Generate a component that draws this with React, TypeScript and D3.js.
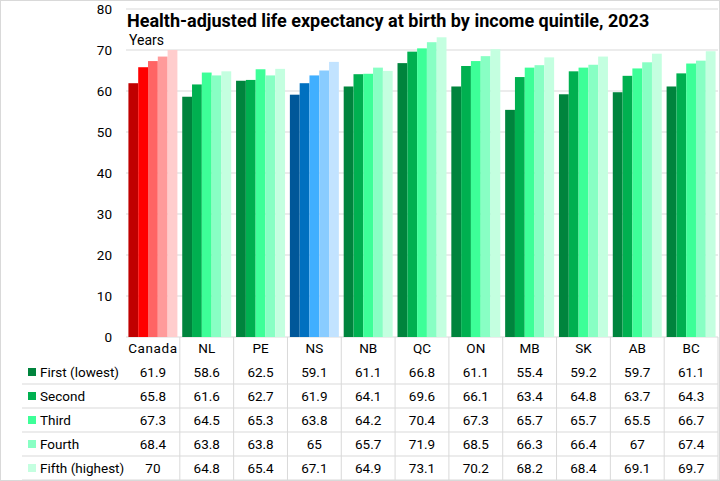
import * as d3 from 'd3';

const categories = ['Canada', 'NL', 'PE', 'NS', 'NB', 'QC', 'ON', 'MB', 'SK', 'AB', 'BC'];
const seriesNames = ['First (lowest)', 'Second', 'Third', 'Fourth', 'Fifth (highest)'];
const first = [61.9, 58.6, 62.5, 59.1, 61.1, 66.8, 61.1, 55.4, 59.2, 59.7, 61.1];
const second = [65.8, 61.6, 62.7, 61.9, 64.1, 69.6, 66.1, 63.4, 64.8, 63.7, 64.3];
const third = [67.3, 64.5, 65.3, 63.8, 64.2, 70.4, 67.3, 65.7, 65.7, 65.5, 66.7];
const fourth = [68.4, 63.8, 63.8, 65, 65.7, 71.9, 68.5, 66.3, 66.4, 67, 67.4];
const fifth = [70, 64.8, 65.4, 67.1, 64.9, 73.1, 70.2, 68.2, 68.4, 69.1, 69.7];
const series = [first, second, third, fourth, fifth];
const yTicks = [0, 10, 20, 30, 40, 50, 60, 70, 80];

const greens = ['#00843D', '#00B050', '#3DFF98', '#88FFC4', '#C4FFE0'];
const reds = ['#C00000', '#FF0000', '#FF6464', '#FF9B9B', '#FFCDCD'];
const blues = ['#005799', '#0070C0', '#40AFFF', '#89CCFF', '#C2E3FF'];

const W = 720, H = 481;
const m = { l: 126, r: 2, t: 9, b: 144 };
const font = 'Roboto, "Noto Sans", sans-serif';

function colorFor(cat: string, i: number) {
  if (cat === 'Canada') return reds[i];
  if (cat === 'NS') return blues[i];
  return greens[i];
}

export default function App() {
  const x = d3.scaleBand<string>().domain(categories).range([m.l, W - m.r]).paddingInner(0.09).paddingOuter(0.045);
  const x0 = d3.scaleBand<string>().domain(categories).range([m.l, W - m.r]);
  const xi = d3.scaleBand<number>().domain(d3.range(5)).range([0, x.bandwidth()]);
  const y = d3.scaleLinear().domain([0, 80]).range([H - m.b, m.t]);
  const baseY = y(0);
  const rowH = 24;
  const headerBottom = 360;

  return (
    <svg width={W} height={H} style={{ position: 'absolute', left: 0, top: 0, fontFamily: font }}>
      <rect x={0.5} y={0.5} width={W - 1} height={H - 1} fill="#fff" stroke="#d9d9d9" />
      {yTicks.map(t => (
        <g key={t}>
          <line x1={m.l} x2={W - m.r} y1={y(t)} y2={y(t)} stroke="#d9d9d9" strokeWidth={1} />
          <text x={112} y={y(t)} dy="0.35em" textAnchor="end" fontSize={13.5} fill="#000">{t}</text>
        </g>
      ))}
      {categories.map((c, ci) => (
        <g key={c} transform={`translate(${x(c)},0)`}>
          {series.map((s, si) => (
            <rect key={si} x={xi(si)} y={y(s[ci])} width={xi.bandwidth()} height={baseY - y(s[ci])} fill={colorFor(c, si)} />
          ))}
        </g>
      ))}
      <text x={127} y={27} fontSize={18} fontWeight="bold" fill="#000">Health-adjusted life expectancy at birth by income quintile, 2023</text>
      <text x={129} y={45} fontSize={14} fill="#000">Years</text>
      {/* data table */}
      {categories.map((c, ci) => (
        <g key={c}>
          <line x1={(x0(c) as number) + x0.bandwidth()} x2={(x0(c) as number) + x0.bandwidth()} y1={baseY} y2={H} stroke="#d9d9d9" />
          <text x={(x0(c) as number) + x0.bandwidth() / 2} y={348} dy="0.35em" textAnchor="middle" fontSize={13.5} letterSpacing={c === 'Canada' ? 0.6 : 0}>{c}</text>
          {series.map((s, si) => (
            <text key={si} x={(x0(c) as number) + x0.bandwidth() / 2} y={headerBottom + rowH * si + rowH / 2} dy="0.35em" textAnchor="middle" fontSize={13.5}>{s[ci]}</text>
          ))}
        </g>
      ))}
      {seriesNames.map((n, si) => (
        <g key={n}>
          <line x1={22} x2={W - m.r} y1={headerBottom + rowH * (si + 1)} y2={headerBottom + rowH * (si + 1)} stroke="#d9d9d9" />
          <rect x={28} y={headerBottom + rowH * si + rowH / 2 - 4} width={8} height={8} fill={greens[si]} />
          <text x={40} y={headerBottom + rowH * si + rowH / 2} dy="0.35em" fontSize={13.5}>{n}</text>
        </g>
      ))}
    </svg>
  );
}
